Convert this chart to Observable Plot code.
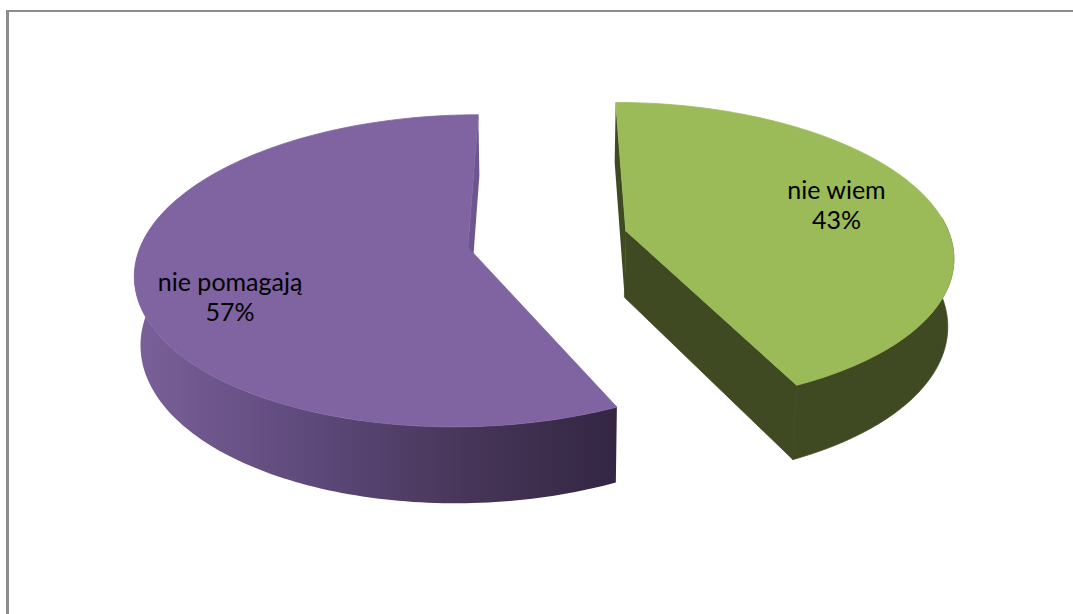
<!DOCTYPE html>
<html>
<head>
<meta charset="utf-8">
<script src="https://cdn.jsdelivr.net/npm/d3@7"></script>
<script src="https://cdn.jsdelivr.net/npm/@observablehq/plot@0.6"></script>
<style>
html,body{margin:0;padding:0;background:#fff;overflow:hidden}
#wrap{position:relative;width:1073px;height:614px}
#wrap svg{display:block;position:absolute;left:0;top:0}
#frame{position:absolute;left:6px;top:10px;right:0;bottom:0;border-top:2px solid #8c8c8c;border-left:3px solid #8c8c8c;box-sizing:border-box}
</style>
</head>
<body>
<div id="wrap"><div id="frame"></div></div>
<script>
// Chart values
const categories = ["nie wiem", "nie pomagają"];
const shares = [43, 57];
const percentLabels = ["43%", "57%"];
const topColors = ["#9bbb59", "#8064a2"];

// 3D pie view
const view = {vx: 547, vy: 238.5, R: 325, B: 150, k: 0.15, explode: 0.249, depth: 67, xShrink: 0.985, yGrow: 1.05};
const rad = d => d * Math.PI / 180;
const total = d3.sum(shares);
const spans = shares.map(s => s / total * 360);
const start = [0, spans[0]];
const end = [spans[0], 360];
const mids = start.map((s, i) => (s + end[i]) / 2);

function project(i, deg, r, bottom) {
  const ub = Math.sin(rad(mids[i])), vb = Math.cos(rad(mids[i]));
  const U = view.explode * ub + r * Math.sin(rad(deg));
  const V = view.explode * vb + r * Math.cos(rad(deg));
  const s = 1 / (1 + view.k * V);
  const px = view.R * U * s, py = -view.B * V * s;
  return bottom
    ? {x: view.vx + px * view.xShrink, y: view.vy + view.depth + py * view.yGrow}
    : {x: view.vx + px, y: view.vy + py};
}
const arc = (i, a, b, bottom) => d3.range(0, 121).map(j => project(i, a + (b - a) * j / 120, 1, bottom));
const sector = i => [project(i, 0, 0), ...arc(i, start[i], end[i]), project(i, 0, 0)];
const wall = (i, a, b) => [...arc(i, a, b), ...arc(i, b, a, true)];
const cutWall = (i, a) => [project(i, 0, 0), project(i, a, 1), project(i, a, 1, true), project(i, 0, 0, true)];

const poly = (data, fill, stroke = "none") => Plot.line(data, {x: "x", y: "y", fill, stroke, strokeWidth: 0.8, curve: "linear-closed"});

function defs() {
  const ns = "http://www.w3.org/2000/svg";
  const d = document.createElementNS(ns, "defs");
  const g = document.createElementNS(ns, "linearGradient");
  g.setAttribute("id", "purpleWall");
  g.setAttribute("gradientUnits", "userSpaceOnUse");
  g.setAttribute("x1", 136); g.setAttribute("x2", 616);
  g.setAttribute("y1", 0); g.setAttribute("y2", 0);
  [[0, "#7a6098"], [0.35, "#5f4a7c"], [0.7, "#463558"], [1, "#332643"]].forEach(([o, c]) => {
    const st = document.createElementNS(ns, "stop");
    st.setAttribute("offset", o); st.setAttribute("stop-color", c);
    g.appendChild(st);
  });
  d.appendChild(g);
  return d;
}

const labelSpots = [
  {i: 0, r: 0.69, dy: -5},
  {i: 1, r: 0.72, dy: 25}
].map(({i, r, dy}) => ({...project(i, mids[i], r), dy, text: categories[i] + "\n" + percentLabels[i]}));

const chart = Plot.plot({
  width: 1073, height: 614, margin: 0,
  x: {domain: [0, 1073], range: [0, 1073], axis: null},
  y: {domain: [0, 614], range: [0, 614], axis: null},
  style: {background: "transparent"},
  marks: [
    defs,
    // purple slice
    poly(cutWall(1, 360), "#6d5590"),
    poly(wall(1, start[1], 290), "url(#purpleWall)"),
    poly(sector(1), topColors[1], topColors[1]),
    // green slice
    poly(cutWall(0, 0), "#3f4a23"),
    poly(cutWall(0, spans[0]), "#3f4a23", "#3f4a23"),
    poly(wall(0, 85, end[0]), "#3f4a23", "#3f4a23"),
    poly(sector(0), topColors[0], topColors[0]),
    // labels
    ...labelSpots.map(l => Plot.text([l], {
      x: "x", y: "y", text: "text", dy: l.dy,
      fontSize: 25, lineHeight: 1.2, fontFamily: "Lato, 'Open Sans', sans-serif",
      fill: "#000", textAnchor: "middle"
    }))
  ]
});
document.getElementById("wrap").prepend(chart);
</script>
</body>
</html>
